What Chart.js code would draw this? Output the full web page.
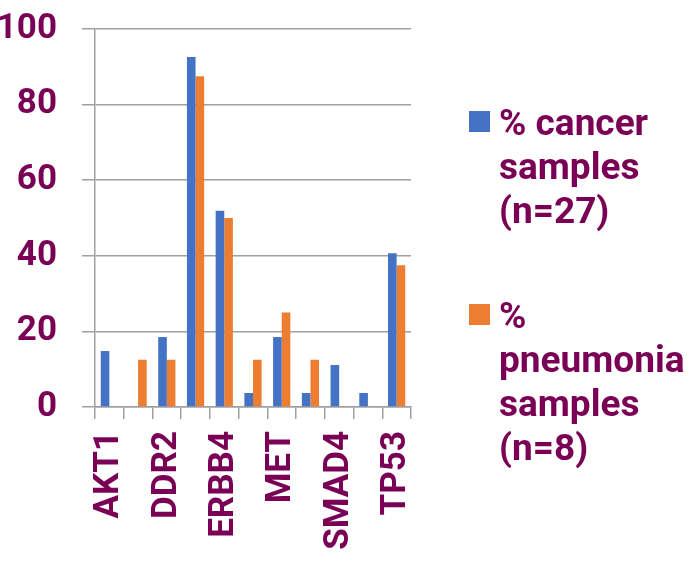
<!DOCTYPE html>
<html>
<head>
<meta charset="utf-8">
<script src="https://cdn.jsdelivr.net/npm/chart.js@4/dist/chart.umd.min.js"></script>
<style>
  html, body { margin: 0; padding: 0; background: #ffffff; }
  #wrap { width: 691px; height: 561px; position: relative; }
</style>
</head>
<body>
<div id="wrap"><canvas id="c" width="691" height="561"></canvas></div>
<script>
// Genes tested; every second name is shown on the axis
const genes = ['AKT1', 'BRAF', 'DDR2', 'EGFR', 'ERBB4', 'KRAS', 'MET', 'PIK3CA', 'SMAD4', 'STK11', 'TP53'];

// Percentage of samples carrying a variant in each gene
const cancerPct    = [14.8, 0, 18.5, 92.6, 51.9, 3.7, 18.5, 3.7, 11.1, 3.7, 40.7];
const pneumoniaPct = [0, 12.5, 12.5, 87.5, 50, 12.5, 25, 12.5, 0, 0, 37.5];

// Legend text, one entry per series, split over lines
const cancerLegend    = ['% cancer', 'samples', '(n=27)'];
const pneumoniaLegend = ['%', 'pneumonia', 'samples', '(n=8)'];

const yTicks = [0, 20, 40, 60, 80, 100];

const PURPLE = '#7a0055';
const BLUE = '#4472c4';
const ORANGE = '#ed7d31';
const GRID = '#a0a0a0';
const FONT = 'Roboto, "Liberation Sans", sans-serif';

// Wrapped legend drawn on the right of the plot
const sideLegend = {
  id: 'sideLegend',
  afterDraw(chart) {
    const ctx = chart.ctx;
    const items = [
      { lines: cancerLegend, color: BLUE, top: 111 },
      { lines: pneumoniaLegend, color: ORANGE, top: 304 }
    ];
    ctx.save();
    ctx.font = 'bold 37px ' + FONT;
    ctx.textBaseline = 'alphabetic';
    ctx.textAlign = 'left';
    items.forEach(it => {
      ctx.fillStyle = it.color;
      ctx.fillRect(469, it.top, 21, 21);
      ctx.fillStyle = PURPLE;
      it.lines.forEach((t, i) => {
        ctx.fillText(t, 499, it.top + 24 + i * 44);
      });
    });
    ctx.restore();
  }
};

new Chart(document.getElementById('c'), {
  type: 'bar',
  data: {
    labels: genes,
    datasets: [
      { label: cancerLegend.join(' '), data: cancerPct, backgroundColor: BLUE,
        categoryPercentage: 0.6, barPercentage: 1.0 },
      { label: pneumoniaLegend.join(' '), data: pneumoniaPct, backgroundColor: ORANGE,
        categoryPercentage: 0.6, barPercentage: 1.0 }
    ]
  },
  options: {
    responsive: false,
    animation: false,
    devicePixelRatio: 1,
    layout: { padding: { top: 29, right: 280, left: 0, bottom: 0 } },
    plugins: {
      legend: { display: false },
      tooltip: { enabled: false }
    },
    scales: {
      x: {
        grid: {
          display: true,
          drawOnChartArea: false,
          drawTicks: true,
          tickLength: 12,
          color: GRID,
          lineWidth: 1.5,
          offset: true
        },
        border: { display: true, color: GRID, width: 1.5 },
        ticks: {
          autoSkip: false,
          minRotation: 90,
          maxRotation: 90,
          padding: 12,
          color: PURPLE,
          font: { family: FONT, size: 35, weight: 'bold' },
          callback: function (v, i) { return i % 2 === 0 ? this.getLabelForValue(v) : ''; }
        },
        afterFit(scale) {
          scale.height = 154;
          scale.paddingLeft = 0;
          scale.paddingRight = 0;
        }
      },
      y: {
        min: 0,
        max: 100,
        afterBuildTicks(scale) { scale.ticks = yTicks.map(v => ({ value: v })); },
        grid: {
          color: GRID,
          lineWidth: 1.5,
          drawTicks: true,
          tickLength: 13
        },
        border: { display: true, color: GRID, width: 1.5 },
        ticks: {
          padding: 25,
          color: PURPLE,
          font: { family: FONT, size: 35, weight: 'bold' }
        },
        afterFit(scale) {
          scale.width = 95;
          scale.paddingTop = 0;
          scale.paddingBottom = 0;
        }
      }
    }
  },
  plugins: [sideLegend]
});
</script>
</body>
</html>
